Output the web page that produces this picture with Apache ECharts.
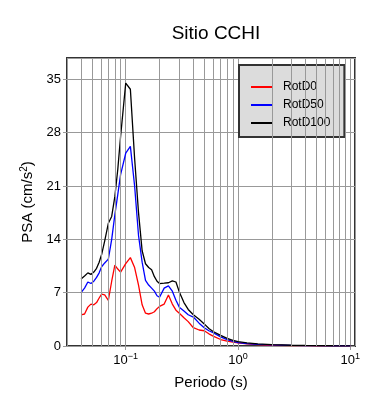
<!DOCTYPE html>
<html><head><meta charset="utf-8">
<script src="https://cdn.jsdelivr.net/npm/echarts@6/dist/echarts.min.js"></script>
<style>html,body{margin:0;padding:0;background:#fff}#c{width:390px;height:400px}</style>
</head><body><div id="c"></div>
<script>
var periods = [0.04, 0.043, 0.046, 0.049, 0.052, 0.055, 0.058, 0.061, 0.065, 0.07, 0.075, 0.08, 0.085, 0.09, 0.1, 0.11, 0.12, 0.13, 0.14, 0.15, 0.16, 0.17, 0.18, 0.19, 0.2, 0.22, 0.24, 0.26, 0.28, 0.3, 0.33, 0.36, 0.4, 0.45, 0.5, 0.55, 0.6, 0.7, 0.8, 0.9, 1.0, 1.2, 1.5, 2, 3, 4, 5, 7, 10];
var rotD0 = [4.1, 4.2, 5.1, 5.5, 5.4, 5.7, 6.3, 6.8, 6.7, 6.0, 8.5, 10.6, 10.1, 9.7, 10.8, 11.6, 10.3, 8.0, 5.4, 4.3, 4.2, 4.3, 4.5, 4.9, 5.2, 5.5, 6.7, 5.5, 4.7, 4.3, 3.7, 3.2, 2.4, 2.1, 2.0, 1.6, 1.3, 0.85, 0.65, 0.5, 0.4, 0.28, 0.18, 0.1, 0.06, 0.04, 0.03, 0.02, 0.01];
var rotD50 = [7.0, 7.6, 8.4, 8.2, 8.5, 9.0, 9.6, 10.4, 10.9, 11.4, 14.0, 17.2, 19.9, 22.5, 25.3, 26.2, 21.0, 14.5, 11.0, 8.6, 8.0, 7.6, 7.2, 6.6, 6.4, 7.6, 7.9, 7.2, 6.0, 5.1, 4.6, 4.1, 3.8, 3.0, 2.4, 2.0, 1.75, 1.2, 0.85, 0.6, 0.45, 0.32, 0.22, 0.14, 0.08, 0.05, 0.04, 0.025, 0.015];
var rotD100 = [8.8, 9.2, 9.6, 9.4, 9.7, 10.2, 11.0, 12.0, 13.8, 16.1, 17.0, 19.6, 23.2, 27.5, 34.5, 33.7, 24.6, 17.5, 12.5, 10.8, 10.3, 10.0, 9.1, 8.5, 8.2, 8.25, 8.3, 8.55, 8.4, 7.1, 5.7, 4.8, 4.1, 3.5, 2.9, 2.3, 1.9, 1.4, 1.0, 0.75, 0.57, 0.4, 0.28, 0.18, 0.1, 0.07, 0.05, 0.03, 0.02];
var yTicks = [0, 7, 14, 21, 28, 35];
var minorX = [0.04, 0.05, 0.06, 0.07, 0.08, 0.09, 0.2, 0.3, 0.4, 0.5, 0.6, 0.7, 0.8, 0.9, 2, 3, 4, 5, 6, 7, 8, 9];
var seriesNames = ['RotD0', 'RotD50', 'RotD100'];
var seriesColors = ['#ff0000', '#0000ff', '#000000'];

function pairs(vals){ return periods.map(function(p,i){ return [p, vals[i]]; }); }
var FONT = 'Liberation Sans, Arial, sans-serif';
var chart = echarts.init(document.getElementById('c'));
chart.setOption({
  animation: false,
  textStyle: {fontFamily: FONT},
  title: {text: 'Sitio CCHI', left: 211, top: 19, textAlign: 'center',
    textStyle: {fontFamily: FONT, fontSize: 19, fontWeight: 'normal', color: '#000'}},
  grid: {left: 67, top: 58, right: 35, bottom: 54, show: true, borderColor: '#333', borderWidth: 2, backgroundColor: 'transparent'},
  legend: {
    orient: 'vertical', left: 239, top: 65,
    backgroundColor: '#dcdcdc', borderColor: '#333', borderWidth: 2, borderRadius: 0,
    padding: [15, 14, 7, 12], itemGap: 4, itemWidth: 22, itemHeight: 14,
    icon: 'path://M0,6 L22,6 L22,8 L0,8 Z',
    textStyle: {fontFamily: FONT, fontSize: 12, color: '#000', padding: [0,0,0,5], lineHeight: 14, height: 14},
    data: seriesNames
  },
  xAxis: {
    type: 'log', min: 0.03, max: 11, logBase: 10,
    name: 'Periodo (s)', nameLocation: 'middle', nameGap: 29,
    nameTextStyle: {fontFamily: FONT, fontSize: 15, color: '#000'},
    axisLine: {show: false},
    axisTick: {show: true, inside: false, length: 4, lineStyle: {color: '#999'}},
    splitLine: {show: true, lineStyle: {color: '#999', width: 1}},
    axisLabel: {
      showMinLabel: false, showMaxLabel: false, margin: 6,
      formatter: function(v){
        var e = Math.round(Math.log10(v));
        if (Math.abs(Math.log10(v) - e) > 1e-6) return '';
        return '{b|10}{s|' + (e < 0 ? '−' + (-e) : e) + '}';
      },
      rich: {b: {fontFamily: FONT, fontSize: 13, color: '#000'},
             s: {fontFamily: FONT, fontSize: 9, color: '#000', padding: [0,0,8,0]}}
    }
  },
  yAxis: {
    type: 'value', min: 0, max: 37.8, interval: 7,
    name: 'PSA (cm/s{s|2})', nameLocation: 'middle', nameGap: 29,
    nameTextStyle: {fontFamily: FONT, fontSize: 15, color: '#000',
      rich: {s: {fontFamily: FONT, fontSize: 10, color: '#000', padding: [0,0,8,0]}}},
    axisLine: {show: false},
    axisTick: {show: true, inside: false, length: 4, lineStyle: {color: '#999'}},
    splitLine: {show: true, lineStyle: {color: '#999', width: 1}},
    axisLabel: {showMaxLabel: false, fontFamily: FONT, fontSize: 13, color: '#000', margin: 6,
      formatter: function(v){ return yTicks.indexOf(v) >= 0 ? String(v) : ''; }}
  },
  series: [
    {name: 'minor', type: 'line', data: [], silent: true,
     markLine: {silent: true, symbol: 'none', label: {show: false},
       lineStyle: {color: '#999', width: 1, type: 'solid'},
       data: minorX.map(function(v){ return {xAxis: v}; })}},
    {name: seriesNames[0], type: 'line', data: pairs(rotD0), showSymbol: false, symbol: 'none',
     lineStyle: {color: seriesColors[0], width: 1.3}, itemStyle: {color: seriesColors[0]}},
    {name: seriesNames[1], type: 'line', data: pairs(rotD50), showSymbol: false, symbol: 'none',
     lineStyle: {color: seriesColors[1], width: 1.3}, itemStyle: {color: seriesColors[1]}},
    {name: seriesNames[2], type: 'line', data: pairs(rotD100), showSymbol: false, symbol: 'none',
     lineStyle: {color: seriesColors[2], width: 1.3}, itemStyle: {color: seriesColors[2]}}
  ]
});
</script></body></html>
